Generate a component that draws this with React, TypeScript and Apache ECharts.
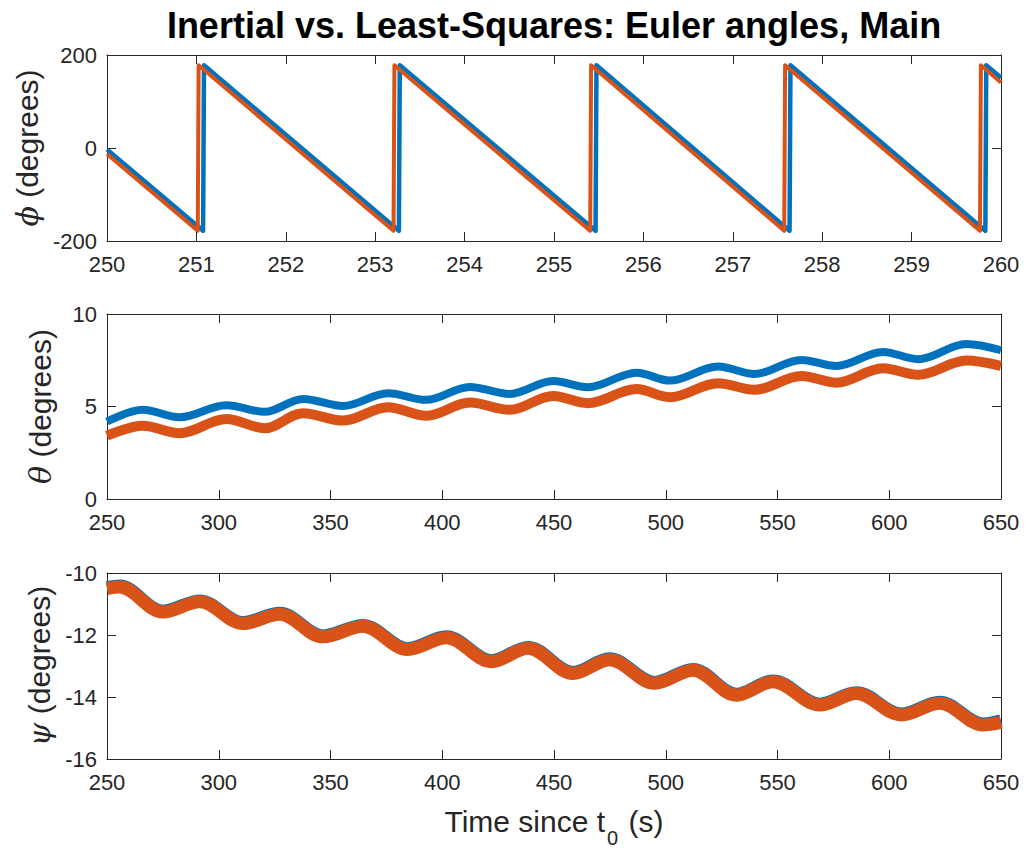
import React, { useEffect, useRef } from "react";
import * as echarts from "echarts";

const TITLE = "Inertial vs. Least-Squares: Euler angles, Main";
const X_LABEL_MAIN = "Time since t";
const X_LABEL_SUB = "0";
const X_LABEL_END = " (s)";

const BLUE = "#0072BD";
const ORANGE = "#D95319";

// phi (degrees) — vertices of the sawtooth, [time, value]
const phiInertial: [number, number][] = [
  [250, -3], [251.075, -178], [251.085, 178], [253.265, -178], [253.275, 178],
  [255.465, -178], [255.475, 178], [257.635, -178], [257.645, 178],
  [259.825, -178], [259.835, 178], [260, 151],
];
const phiLSQ: [number, number][] = [
  [250, -13], [251.015, -178], [251.025, 178], [253.205, -178], [253.215, 178],
  [255.405, -178], [255.415, 178], [257.575, -178], [257.585, 178],
  [259.765, -178], [259.775, 178], [260, 141],
];

// theta (degrees)
const thetaTimes = [250, 266, 282.5, 303.4, 320.6, 337.7, 355.6, 375.7, 392.9, 412.3, 430.2, 449.6, 465.2, 486.9, 501.8, 523.4, 539.8, 560.7, 576.3, 597.2, 612.9, 634.5, 650];
const thetaInertial = [4.19, 4.82, 4.42, 5.07, 4.71, 5.41, 5.03, 5.72, 5.36, 6.06, 5.68, 6.38, 6.04, 6.83, 6.4, 7.16, 6.76, 7.52, 7.19, 7.95, 7.56, 8.38, 8.04];
const thetaLSQ = [3.42, 3.96, 3.56, 4.32, 3.83, 4.64, 4.24, 4.96, 4.5, 5.21, 4.82, 5.57, 5.18, 5.94, 5.5, 6.26, 5.9, 6.65, 6.29, 7.07, 6.71, 7.48, 7.19];

// psi (degrees)
const psiTimes = [250, 255.7, 275, 291.5, 310.9, 327.3, 346.6, 364.5, 384.5, 401.9, 422, 438.4, 458.5, 474.9, 495, 512.2, 531.6, 548, 568.9, 585.3, 605.4, 622.6, 642, 650];
const psiInertial = [-10.47, -10.42, -11.23, -10.9, -11.6, -11.3, -12.03, -11.69, -12.44, -12.06, -12.83, -12.4, -13.21, -12.77, -13.53, -13.11, -13.91, -13.48, -14.23, -13.86, -14.55, -14.17, -14.87, -14.77];
const psiLSQ = [-10.5, -10.45, -11.26, -10.93, -11.63, -11.33, -12.06, -11.72, -12.47, -12.09, -12.86, -12.43, -13.24, -12.8, -13.56, -13.14, -13.94, -13.51, -14.26, -13.89, -14.58, -14.2, -14.9, -14.82];

const AX = "#262626";
const FONT = "'Liberation Sans', Arial, Helvetica, sans-serif";

function pair(ts: number[], vs: number[]) {
  return ts.map((t, i) => [t, vs[i]]);
}

export default function App() {
  const ref = useRef<HTMLDivElement>(null);
  useEffect(() => {
    if (!ref.current) return;
    const chart = echarts.init(ref.current, null, { renderer: "svg" });
    const grids = [
      { left: 107, width: 894, top: 55, height: 186 },
      { left: 107, width: 894, top: 314, height: 185 },
      { left: 107, width: 894, top: 573, height: 186 },
    ];
    const xr = [
      { min: 250, max: 260, interval: 1 },
      { min: 250, max: 650, interval: 50 },
      { min: 250, max: 650, interval: 50 },
    ];
    const yr = [
      { min: -200, max: 200, interval: 200, name: "{g|ϕ} (degrees)" },
      { min: 0, max: 10, interval: 5, name: "{g|θ} (degrees)" },
      { min: -16, max: -10, interval: 2, name: "{g|ψ} (degrees)" },
    ];
    const xAxis: any[] = [];
    const yAxis: any[] = [];
    for (let i = 0; i < 3; i++) {
      const base = {
        type: "value",
        gridIndex: i,
        min: xr[i].min,
        max: xr[i].max,
        interval: xr[i].interval,
        axisLine: { show: true, onZero: false, lineStyle: { color: AX, width: 1 } },
        axisTick: { show: true, inside: true, length: 9, lineStyle: { color: AX, width: 1 } },
        splitLine: { show: false },
      };
      xAxis.push({
        ...base,
        position: "bottom",
        axisLabel: { show: true, color: AX, fontSize: 22, fontFamily: FONT, margin: 12 },
      });
      xAxis.push({ ...base, position: "top", axisLabel: { show: false } });
      const ybase = {
        type: "value",
        gridIndex: i,
        min: yr[i].min,
        max: yr[i].max,
        interval: yr[i].interval,
        axisLine: { show: true, onZero: false, lineStyle: { color: AX, width: 1 } },
        axisTick: { show: true, inside: true, length: 9, lineStyle: { color: AX, width: 1 } },
        splitLine: { show: false },
      };
      yAxis.push({
        ...ybase,
        position: "left",
        axisLabel: { show: true, color: AX, fontSize: 22, fontFamily: FONT, margin: 10 },
        name: yr[i].name,
        nameLocation: "middle",
        nameRotate: 90,
        nameGap: 52,
        nameTextStyle: {
          color: AX,
          fontSize: 30,
          fontFamily: FONT,
          rich: { g: { fontStyle: "italic", fontSize: 30, fontFamily: "'DejaVu Serif', serif", color: AX } },
        },
      });
      yAxis.push({ ...ybase, position: "right", axisLabel: { show: false } });
    }
    const lineSeries = (xi: number, data: any[], color: string, width: number, smooth: boolean) => ({
      type: "line",
      xAxisIndex: xi * 2,
      yAxisIndex: xi * 2,
      data,
      showSymbol: false,
      symbol: "none",
      smooth: smooth ? 0.35 : false,
      lineStyle: { color, width, join: "round", cap: "butt" },
      silent: true,
    });
    chart.setOption({
      animation: false,
      backgroundColor: "#ffffff",
      grid: grids,
      xAxis,
      yAxis,
      graphic: [
        {
          type: "text",
          x: 554,
          y: 25,
          style: {
            text: TITLE,
            fill: "#000",
            font: `bold 36px ${FONT}`,
            align: "center",
            verticalAlign: "middle",
          },
        },
        {
          type: "text",
          x: 554,
          y: 827,
          style: {
            text: `{a|${X_LABEL_MAIN}}{s|${X_LABEL_SUB}}{a|${X_LABEL_END}}`,
            fill: AX,
            align: "center",
            verticalAlign: "middle",
            rich: {
              a: { fontSize: 30, fontFamily: FONT, fill: AX, lineHeight: 30, verticalAlign: "top" },
              s: { fontSize: 20, fontFamily: FONT, fill: AX, lineHeight: 41, verticalAlign: "bottom", padding: [0, 2, 0, 2] },
            },
          } as any,
        },
      ],
      series: [
        lineSeries(0, phiInertial, BLUE, 4.5, false),
        lineSeries(0, phiLSQ, ORANGE, 4, false),
        lineSeries(1, pair(thetaTimes, thetaInertial), BLUE, 8, true),
        lineSeries(1, pair(thetaTimes, thetaLSQ), ORANGE, 10, true),
        lineSeries(2, pair(psiTimes, psiInertial), BLUE, 13, true),
        lineSeries(2, pair(psiTimes, psiLSQ), ORANGE, 13, true),
      ],
    });
    return () => chart.dispose();
  }, []);
  return (
    <div
      ref={ref}
      style={{ position: "fixed", left: 0, top: 0, width: 1026, height: 852, background: "#fff" }}
    />
  );
}
